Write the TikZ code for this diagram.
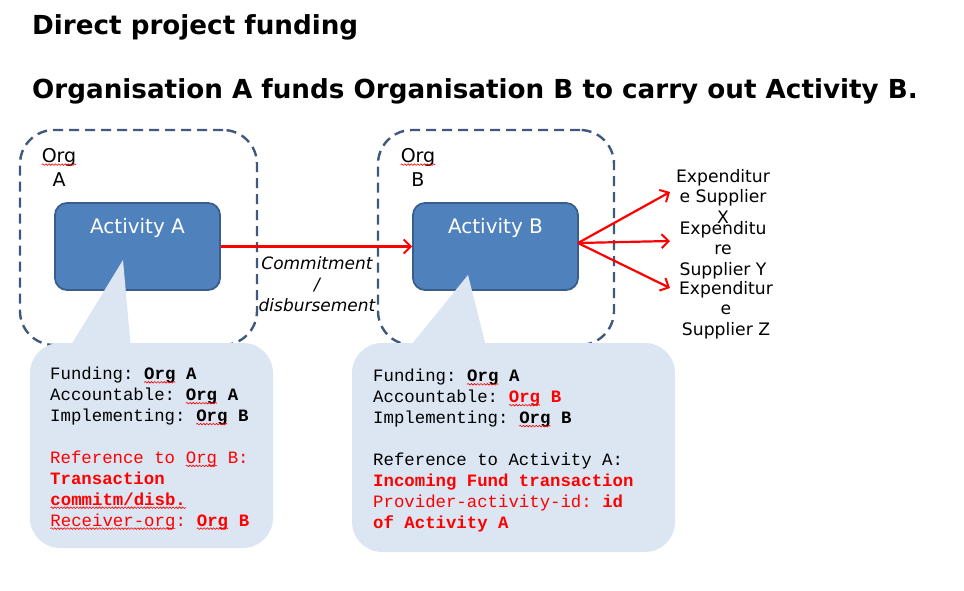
\documentclass[tikz,border=0pt]{standalone}
\usepackage{fontspec}
\setmainfont{DejaVu Sans}
\setsansfont{DejaVu Sans}
\setmonofont{Liberation Mono}
\usetikzlibrary{arrows.meta,decorations.pathmorphing}
\definecolor{actfill}{RGB}{79,129,189}
\definecolor{actdraw}{RGB}{58,94,140}
\definecolor{orgdash}{RGB}{62,88,126}
\definecolor{callfill}{RGB}{220,230,242}
\definecolor{rd}{RGB}{255,0,0}
\tikzset{
  wave/.style={draw=rd,line width=0.6pt,decorate,decoration={snake,amplitude=0.8pt,segment length=3.2pt}},
  orgbox/.style={draw=orgdash,line width=2.4pt,dash pattern=on 10pt off 6pt,rounded corners=34pt,inner sep=0pt},
  actbox/.style={draw=actdraw,fill=actfill,line width=1.8pt,rounded corners=12pt,inner sep=0pt,minimum width=165pt,minimum height=87pt},
  actlabel/.style={text=white,font=\fontsize{20}{24}\selectfont,anchor=base,inner sep=0pt},
  orglabel/.style={font=\fontsize{19}{24}\selectfont,align=center,anchor=base,inner sep=0pt},
  callbox/.style={fill=callfill,rounded corners=30pt,inner sep=0pt},
  calltext/.style={font=\ttfamily\fontsize{17.35}{20.9}\selectfont,align=left,anchor=base west,inner sep=0pt},
  explabel/.style={font=\fontsize{17.2}{20.3}\selectfont,align=center,anchor=base,inner sep=0pt},
  redarrow/.style={draw=rd,line width=2.2pt,-{Straight Barb[length=7pt,width=14pt,line width=2pt]}},
  titletext/.style={font=\bfseries\fontsize{26.2}{30}\selectfont,anchor=base west,inner sep=0pt}
}
\newcommand{\wv}[1]{\tikz[baseline=(wvn.base)]{\node[inner sep=0pt,outer sep=0pt,anchor=base](wvn){#1};\draw[wave]([yshift=-2.6pt]wvn.base west)--([yshift=-2.6pt]wvn.base east);}}
\begin{document}
\begin{tikzpicture}[x=1pt,y=-1pt]
\useasboundingbox (0,0) rectangle (964,591);
% titles
\node[titletext] (t1) at (32,35) {Direct project funding};
\node[titletext] (t2) at (32,99) {Organisation A funds Organisation B to carry out Activity B.};
% organisation boxes
\node[orgbox,minimum width=237pt,minimum height=215pt] (orgA) at (138.5,237.5) {};
\node[orgbox,minimum width=236pt,minimum height=215pt] (orgB) at (496,237.5) {};
\node[orglabel] (orgAl) at (59,186) {\wv{Org}\\A};
\node[orglabel] (orgBl) at (418,186) {\wv{Org}\\B};
% activity boxes
\node[actbox] (actA) at (137.5,246.5) {};
\node[actbox] (actB) at (495.5,246.5) {};
\node[actlabel] (actAl) at (137.5,233) {Activity A};
\node[actlabel] (actBl) at (495.5,233) {Activity B};
% arrows
\draw[redarrow] (actA.east) -- (actB.west);
\node[font=\itshape\fontsize{17}{21}\selectfont,align=center,anchor=base,inner sep=0pt] (commit) at (317,311) {Commitment\\/\\disbursement};
\coordinate (eX) at (670,192);
\coordinate (eY) at (670,241);
\coordinate (eZ) at (670,288);
\coordinate (bOut) at (578,243);
\draw[redarrow] (bOut) -- (eX);
\draw[redarrow] (bOut) -- (eY);
\draw[redarrow] (bOut) -- (eZ);
\node[explabel] (expX) at (723,223) {Expenditur\\e Supplier\\X};
\node[explabel] (expY) at (723,275) {Expenditu\\re\\Supplier Y};
\node[explabel] (expZ) at (726,335) {Expenditur\\e\\Supplier Z};
% callout A
\fill[callfill] (123,260) -- (68,350) -- (131,350) -- cycle;
\node[callbox,minimum width=243pt,minimum height=205pt] (callA) at (151.5,445.5) {};
\node[calltext] (txtA) at (50,526) {Funding: \wv{\textbf{Org}} \textbf{A}\\
Accountable: \wv{\textbf{Org}} \textbf{A}\\
Implementing: \wv{\textbf{Org}} \textbf{B}\\[20.9pt]
\textcolor{rd}{Reference to \wv{Org} B:}\\
\textcolor{rd}{\textbf{Transaction}}\\
\textcolor{rd}{\wv{\textbf{commitm/disb.}}}\\
\textcolor{rd}{\wv{Receiver-org}: \wv{\textbf{Org}} \textbf{B}}};
% callout B
\fill[callfill] (468,275) -- (407,350) -- (487,350) -- cycle;
\node[callbox,minimum width=323pt,minimum height=209pt] (callB) at (513.5,447.5) {};
\node[calltext] (txtB) at (373,528) {Funding: \wv{\textbf{Org}} \textbf{A}\\
Accountable: \textcolor{rd}{\wv{\textbf{Org}} \textbf{B}}\\
Implementing: \wv{\textbf{Org}} \textbf{B}\\[20.9pt]
Reference to Activity A:\\
\textcolor{rd}{\textbf{Incoming Fund transaction}}\\
\textcolor{rd}{Provider-activity-id: \textbf{id}}\\
\textcolor{rd}{\textbf{of Activity A}}};
\end{tikzpicture}
\end{document}
